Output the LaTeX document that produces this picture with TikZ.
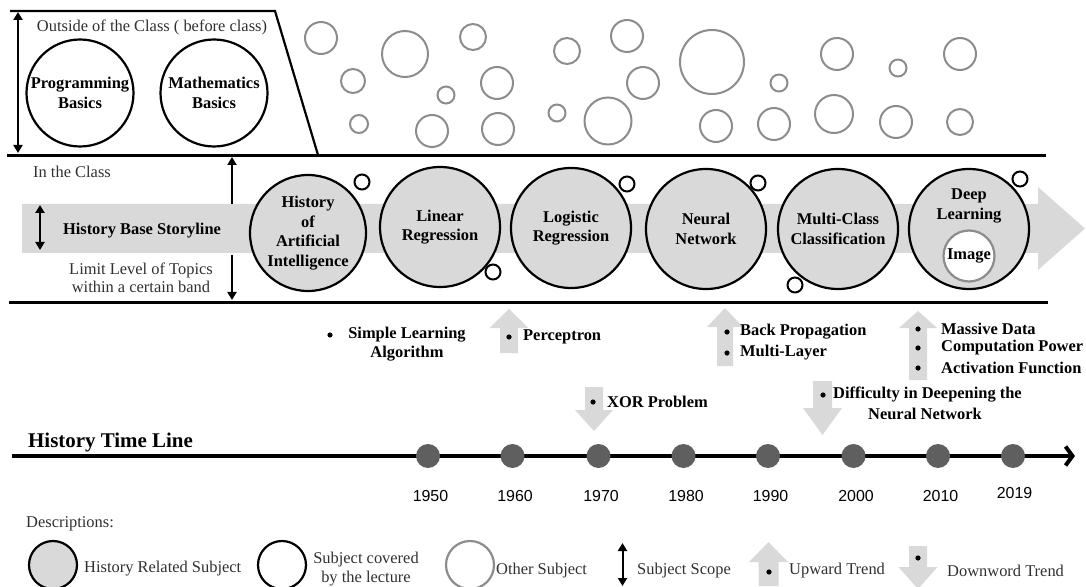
\documentclass[tikz,border=0pt]{standalone}
\usepackage{fontspec}
\setmainfont{Liberation Serif}
\newfontfamily\yearfont{Liberation Sans}
\usetikzlibrary{arrows.meta}
\definecolor{bandgray}{HTML}{D9D9D9}
\definecolor{othergray}{HTML}{8C8C8C}
\definecolor{dotgray}{HTML}{5F5F5F}
\definecolor{txtgray}{HTML}{303030}
% block arrows for trends: centre x, tip y, head base y, tail y, half shaft, half head
\newcommand\trendup[6]{\fill[bandgray] (#1-#5,#4) -- (#1-#5,#3) -- (#1-#6,#3) -- (#1,#2) -- (#1+#6,#3) -- (#1+#5,#3) -- (#1+#5,#4) -- cycle;}
% centre x, tail y, head base y, tip y, half shaft, half head
\newcommand\trenddown[6]{\fill[bandgray] (#1-#5,#2) -- (#1+#5,#2) -- (#1+#5,#3) -- (#1+#6,#3) -- (#1,#4) -- (#1-#6,#3) -- (#1-#5,#3) -- cycle;}
\begin{document}
\begin{tikzpicture}[x=1bp,y=-1bp,
  every node/.style={inner sep=0pt, text=txtgray, font=\fontsize{16.5}{19}\selectfont},
  boldtext/.style={text=black, font=\fontsize{16.5}{19.5}\selectfont\bfseries},
  hist/.style={circle, draw=black, line width=2.2bp, fill=bandgray, minimum size=120bp, align=center, boldtext},
  basic/.style={circle, draw=black, line width=2.2bp, fill=white, minimum size=107bp, align=center, boldtext},
  tiny/.style={circle, draw=black, line width=2bp, fill=white, minimum size=15bp},
  othercircle/.style={draw=othergray, line width=2bp},
  scopearrow/.style={line width=2bp, {Triangle[width=9bp,length=8bp]}-{Triangle[width=9bp,length=8bp]}},
  bandline/.style={line width=3bp},
  yeardot/.style={circle, fill=dotgray, minimum size=24bp},
  yearlabel/.style={text=black, font=\yearfont\fontsize{16}{19}\selectfont},
]
\useasboundingbox (0,0) rectangle (1086,587);

% ---------- outside of the class ----------
\coordinate (trapA) at (10,11);
\coordinate (trapB) at (275,11);
\coordinate (trapC) at (318,155);
\draw[line width=2.2bp] (trapA) -- (trapB) -- (trapC);
\coordinate (outTop) at (18,12);
\coordinate (outBot) at (18,153);
\draw[scopearrow] (outTop) -- (outBot);
\node (outside) at (152,27) {Outside of the Class ( before class)};
\node[basic] (prog) at (80,93) {Programming\\Basics};
\node[basic] (math) at (214,93) {Mathematics\\Basics};

% other subjects
\foreach \cx/\cy/\r in {321/38/16, 353/81/12, 405/54/23, 473/37/13, 359/124/9,
  446/95/8.5, 497/83/16, 432/131/16, 498/129/16, 567/51/13, 627/36/16, 643/83/16,
  557/113/8.5, 608/121/23.5, 712/62/32, 779/83/8.5, 837/54/16, 898/68/8.5,
  960/54/16, 716/126/16, 774/124/16, 834/114/19, 896/122/16, 960/122/13}
  \draw[othercircle] (\cx,\cy) circle (\r);

% ---------- in the class ----------
\coordinate (topL) at (7,155.5);
\coordinate (topR) at (1046,155.5);
\coordinate (botL) at (9,302.5);
\coordinate (botR) at (1048,302.5);

% storyline band arrow
\fill[bandgray] (22,204) -- (1038,204) -- (1038,187) -- (1085,228.5) -- (1038,270)
  -- (1038,253) -- (22,253) -- cycle;

\draw[bandline] (topL) -- (topR);
\draw[bandline] (botL) -- (botR);

\node (inclass) at (72,172) {In the Class};
\node[boldtext] (story) at (142,231) {History Base Storyline};
\node[align=center, font=\fontsize{16.5}{18}\selectfont] (limit) at (141,278) {Limit Level of Topics\\within a certain band};

\coordinate (bandTopArrow) at (232,204);
\coordinate (bandBotArrow) at (232,255);
\coordinate (upEnd) at (232,157);
\coordinate (downEnd) at (232,300);
\draw[line width=2bp, -{Triangle[width=9bp,length=8bp]}] (bandTopArrow) -- (upEnd);
\draw[line width=2bp, -{Triangle[width=9bp,length=8bp]}] (bandBotArrow) -- (downEnd);
\coordinate (storyTop) at (40,205);
\coordinate (storyBot) at (40,250);
\draw[scopearrow] (storyTop) -- (storyBot);

% history subjects
\node[hist, minimum size=116bp] (hai) at (308,233) {History\\of\\Artificial\\Intelligence};
\node[hist] (linreg) at (440,227) {Linear\\Regression};
\node[hist] (logreg) at (571,228) {Logistic\\Regression};
\node[hist] (nn) at (706,229) {Neural\\Network};
\node[hist] (multi) at (838,229) {Multi-Class\\Classification};
\node[hist] (deep) at (969,229) {};
\node[boldtext, align=center] (deeptext) at (969,206) {Deep\\Learning};
\node[circle, draw=othergray, line width=2.2bp, fill=white, minimum size=51bp, boldtext] (image) at (969,256) {Image};

% lecture markers
\node[tiny] (t1) at (362,182) {};
\node[tiny] (t2) at (493,272) {};
\node[tiny] (t3) at (627,184) {};
\node[tiny] (t4) at (758,183) {};
\node[tiny] (t5) at (795,285) {};
\node[tiny] (t6) at (1020,179) {};

% ---------- trends ----------
\trendup{509}{309}{328}{353}{9}{19.5}
\trendup{725}{308}{327}{366}{8}{18}
\trendup{918}{311}{328}{380}{9}{19}
\trenddown{594}{387}{410}{431}{9}{19}
\trenddown{822.5}{381}{408}{435}{9.5}{19.5}

\foreach \bx/\by in {330/335, 509/337, 727/332, 727/353, 918/329, 918/348, 918/368, 593/402, 823/395}
  \fill[black] (\bx,\by) circle (2.6);

\node[boldtext, align=center] (simple) at (407,344) {Simple Learning\\Algorithm};
\node[boldtext, anchor=west] (perc) at (523,337) {Perceptron};
\node[boldtext, anchor=west] (bp) at (740,332) {Back Propagation};
\node[boldtext, anchor=west] (ml) at (740,353) {Multi-Layer};
\node[boldtext, anchor=west] (md) at (941,329) {Massive Data};
\node[boldtext, anchor=west] (cp) at (941,348) {Computation Power};
\node[boldtext, anchor=west] (af) at (941,368) {Activation Function};
\node[boldtext, anchor=west] (xor) at (607,402) {XOR Problem};
\node[boldtext, anchor=west] (diff) at (833,395) {Difficulty in Deepening the};
\node[boldtext] (diff2) at (925,414) {Neural Network};

% ---------- time line ----------
\node[boldtext, anchor=west, font=\fontsize{21}{24}\selectfont\bfseries] (tltitle) at (28,442) {History Time Line};
\coordinate (tl0) at (12,456);
\coordinate (tl1) at (1075,456);
\draw[line width=4bp, -{Straight Barb[length=7bp,width=19bp]}] (tl0) -- (tl1);
\foreach \yx/\yr in {428/1950, 512.5/1960, 598.5/1970, 683.5/1980, 768/1990, 853.5/2000, 938/2010}{
  \node[yeardot] (y\yr) at (\yx,456) {};
  \node[yearlabel] (l\yr) at (\yx+2.5,496) {\yr};
}
\node[yeardot] (y2019) at (1013,456) {};
\node[yearlabel] (l2019) at (1014.5,493) {2019};

% ---------- legend ----------
\node[anchor=west] (desc) at (26,524) {Descriptions:};
\node[circle, draw=black, line width=2.2bp, fill=bandgray, minimum size=48bp] (lg1) at (53,565) {};
\node[anchor=west] (lgt1) at (84,569) {History Related Subject};
\node[circle, draw=black, line width=2.2bp, fill=white, minimum size=48bp] (lg2) at (282,565) {};
\node[align=center, font=\fontsize{16.5}{19}\selectfont] (lgt2) at (366,569) {Subject covered\\by the lecture};
\node[circle, draw=othergray, line width=2.2bp, fill=white, minimum size=48bp] (lg3) at (470,565) {};
\node[anchor=west] (lgt3) at (496,571) {Other Subject};
\coordinate (lgTop) at (622.5,543);
\coordinate (lgBot) at (622.5,586);
\draw[scopearrow] (lgTop) -- (lgBot);
\node[anchor=west] (lgt4) at (637,571) {Subject Scope};
\trendup{768.5}{542}{562}{586}{10}{19.5}
\fill[black] (769,572) circle (2.6);
\node[anchor=west] (lgt5) at (789,571) {Upward Trend};
\trenddown{918}{546}{567}{589}{9}{19.5}
\fill[black] (918,558) circle (2.6);
\node[anchor=west] (lgt6) at (947,571) {Downword Trend};
\end{tikzpicture}
\end{document}
